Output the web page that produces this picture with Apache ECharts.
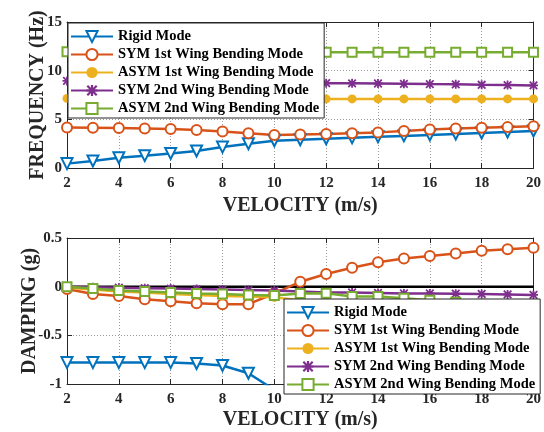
<!DOCTYPE html>
<html><head><meta charset="utf-8">
<script src="https://cdn.jsdelivr.net/npm/echarts@6/dist/echarts.min.js"></script>
<style>html,body{margin:0;padding:0;background:#fff}#c{width:544px;height:432px}</style>
</head><body><div id="c"></div>
<script>
const velocity = [2,3,4,5,6,7,8,9,10,11,12,13,14,15,16,17,18,19,20];
const seriesNames = ['Rigid Mode','SYM 1st Wing Bending Mode','ASYM 1st Wing Bending Mode','SYM 2nd Wing Bending Mode','ASYM 2nd Wing Bending Mode'];
const xTicks = [2,4,6,8,10,12,14,16,18,20];
const freqTicks = [0,5,10,15];
const dampTicks = [-1,-0.5,0,0.5];

// Frequency (Hz)
const freqRigid = [0.45,0.72,1.05,1.27,1.5,1.75,2.15,2.5,2.8,2.9,3.0,3.1,3.2,3.3,3.4,3.5,3.6,3.7,3.8];
const freqSym1  = [4.15,4.13,4.1,4.05,4.0,3.9,3.75,3.56,3.4,3.45,3.5,3.56,3.66,3.8,3.95,4.05,4.14,4.2,4.3];
const freqAsym1 = [7.15,7.15,7.15,7.15,7.15,7.15,7.15,7.15,7.12,7.1,7.1,7.1,7.1,7.1,7.1,7.1,7.1,7.1,7.1];
const freqSym2  = [8.95,8.93,8.9,8.88,8.86,8.84,8.82,8.8,8.78,8.76,8.72,8.7,8.68,8.65,8.62,8.6,8.55,8.52,8.48];
const freqAsym2 = [11.95,11.92,11.9,11.9,11.9,11.9,11.9,11.9,11.9,11.9,11.9,11.9,11.9,11.9,11.9,11.9,11.9,11.9,11.9];

// Damping (g)
const dampRigid = [-0.78,-0.78,-0.78,-0.78,-0.78,-0.79,-0.81,-0.89,-1.06,null,null,null,null,null,null,null,null,null,null];
const dampSym1  = [-0.025,-0.075,-0.096,-0.13,-0.15,-0.17,-0.18,-0.18,-0.07,0.05,0.13,0.195,0.25,0.29,0.315,0.34,0.37,0.385,0.40];
const dampAsym1 = [-0.01,-0.03,-0.05,-0.06,-0.075,-0.085,-0.095,-0.1,-0.11,-0.14,-0.16,-0.18,-0.2,-0.22,-0.24,-0.26,-0.28,-0.3,-0.32];
const dampSym2  = [0,-0.005,-0.01,-0.015,-0.02,-0.025,-0.03,-0.035,-0.04,-0.05,-0.06,-0.06,-0.065,-0.07,-0.07,-0.072,-0.075,-0.08,-0.085];
const dampAsym2 = [0,-0.02,-0.04,-0.05,-0.06,-0.07,-0.075,-0.085,-0.09,-0.07,-0.068,-0.1,-0.1,-0.12,-0.14,-0.16,-0.18,-0.2,-0.22];
const dampZero  = [0,0,0,0,0,0,0,0,0,0,0,0,0,0,0,0,0,0,0];

const colors = ['#0072BD','#D95319','#EDB120','#7E2F8E','#77AC30'];
const FONT = 'Liberation Serif';
const TXT = '#262626';
const asterisk = 'path://M4,0h2v10h-2z M0,4h10v2h-10z M1.5,0.1L9.9,8.5L8.5,9.9L0.1,1.5z M8.5,0.1L9.9,1.5L1.5,9.9L0.1,8.5z';
const symbols = [
  {symbol:'emptyTriangle', symbolSize:11, symbolRotate:180, bw:2},
  {symbol:'emptyCircle', symbolSize:10, bw:2},
  {symbol:'circle', symbolSize:9, bw:0},
  {symbol:asterisk, symbolSize:9, bw:0},
  {symbol:'emptyRect', symbolSize:9, bw:2.5}
];

function pairs(arr){ return velocity.map((v,i)=>[v, arr[i]]); }
function mk(idx, arr, gi){
  const s = symbols[idx];
  return {
    name: seriesNames[idx], type:'line', xAxisIndex:gi, yAxisIndex:gi,
    data: pairs(arr), symbol:s.symbol, symbolSize:s.symbolSize, symbolRotate:s.symbolRotate||0,
    showAllSymbol:true, clip:true, animation:false,
    lineStyle:{color:colors[idx], width:2.5},
    itemStyle:{color:colors[idx], borderColor:colors[idx], borderWidth:s.bw}
  };
}

function xAxisMain(gi, gap){
  return {type:'value', gridIndex:gi, min:2, max:20, interval:2, position:'bottom',
    name:'VELOCITY (m/s)', nameLocation:'middle', nameGap:gap, nameMoveOverlap:false,
    nameTextStyle:{fontFamily:FONT, fontWeight:'bold', fontSize:20, color:TXT},
    axisLine:{show:true, onZero:false, lineStyle:{color:TXT, width:1}},
    axisTick:{show:true, inside:true, length:5, lineStyle:{color:TXT}},
    axisLabel:{fontFamily:FONT, fontWeight:'bold', fontSize:15, color:TXT, margin:8},
    splitLine:{show:true, lineStyle:{color:'#9a9a9a', type:[1,2], width:1}}
  };
}
function xAxisMirror(gi){
  return {type:'value', gridIndex:gi, min:2, max:20, interval:2, position:'top',
    axisLine:{show:true, onZero:false, lineStyle:{color:TXT, width:1}},
    axisTick:{show:true, inside:true, length:5, lineStyle:{color:TXT}},
    axisLabel:{show:false}, splitLine:{show:false}};
}
function yAxisMain(gi, min, max, interval, name, gap){
  return {type:'value', gridIndex:gi, min:min, max:max, interval:interval, position:'left',
    name:name, nameLocation:'middle', nameGap:gap, nameMoveOverlap:false,
    nameTextStyle:{fontFamily:FONT, fontWeight:'bold', fontSize:20, color:TXT},
    axisLine:{show:true, onZero:false, lineStyle:{color:TXT, width:1}},
    axisTick:{show:true, inside:true, length:5, lineStyle:{color:TXT}},
    axisLabel:{fontFamily:FONT, fontWeight:'bold', fontSize:15, color:TXT, margin:5},
    splitLine:{show:true, lineStyle:{color:'#9a9a9a', type:[1,2], width:1}}
  };
}
function yAxisMirror(gi, min, max, interval){
  return {type:'value', gridIndex:gi, min:min, max:max, interval:interval, position:'right',
    axisLine:{show:true, onZero:false, lineStyle:{color:TXT, width:1}},
    axisTick:{show:true, inside:true, length:5, lineStyle:{color:TXT}},
    axisLabel:{show:false}, splitLine:{show:false}};
}

function legendCfg(left, top){
  return {
    data: seriesNames, orient:'vertical', left:left, top:top, z:10,
    backgroundColor:'#ffffff', borderColor:TXT, borderWidth:1,
    padding:[6,5,2,2], itemGap:3, itemWidth:42, itemHeight:14,
    textStyle:{fontFamily:FONT, fontWeight:'bold', fontSize:14.5, color:'#000', lineHeight:14},
    selectedMode:false
  };
}

const option = {
  backgroundColor:'#ffffff',
  animation:false,
  grid:[
    {left:67, top:22, width:471, height:146},
    {left:67, top:238, width:471, height:146}
  ],
  xAxis:[xAxisMain(0,28), xAxisMain(1,26), xAxisMirror(0), xAxisMirror(1)],
  yAxis:[yAxisMain(0,0,15,5,'FREQUENCY (Hz)',19), yAxisMain(1,-1,0.5,0.5,'DAMPING (g)',27),
         yAxisMirror(0,0,15,5), yAxisMirror(1,-1,0.5,0.5)],
  legend:[legendCfg(68,23), legendCfg(284,299)],
  series:[
    mk(0,freqRigid,0), mk(1,freqSym1,0), mk(2,freqAsym1,0), mk(3,freqSym2,0), mk(4,freqAsym2,0),
    {name:'zero', type:'line', xAxisIndex:1, yAxisIndex:1, data:pairs(dampZero), symbol:'none',
     lineStyle:{color:'#000', width:2.5}, z:1, animation:false},
    mk(0,dampRigid,1), mk(1,dampSym1,1), mk(2,dampAsym1,1), mk(3,dampSym2,1), mk(4,dampAsym2,1)
  ]
};
const chart = echarts.init(document.getElementById('c'), null, {renderer:'canvas'});
chart.setOption(option);
</script>
</body></html>
